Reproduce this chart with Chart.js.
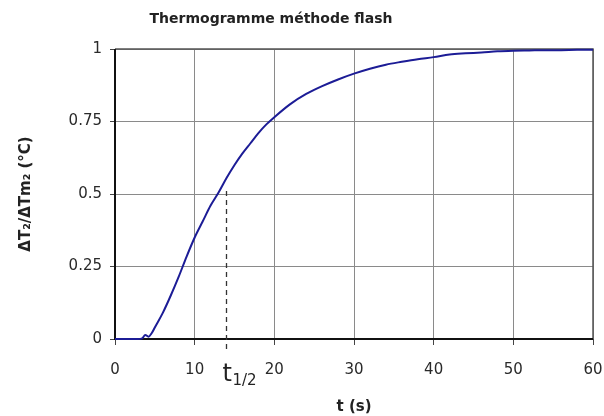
<!DOCTYPE html>
<html><head><meta charset="utf-8">
<script src="https://cdn.jsdelivr.net/npm/chart.js@4.4.0/dist/chart.umd.min.js"></script>
<style>html,body{margin:0;padding:0;background:#fff}#wrap{width:604px;height:416px}</style>
</head><body><div id="wrap"><canvas id="c" width="604" height="416"></canvas></div>
<script>
const chartTitle = "Thermogramme méthode flash";
const xTitle = "t (s)";
const yTitle = "ΔT₂/ΔTm₂ (°C)";
const tHalf = 13.9;
const tHalfY = 0.51;
const timeS = [0,1,2,2.9,3.4,3.8,4.2,4.6,5,6,7,8,9,10,11,12,13,14,15,16,17,18,19,20,22,24,26,28,30,32,34,36,38,40,42,44,46,48,50,52,54,56,58,60];
const ratio = [0,0,0,0,0.002,0.014,0.008,0.02,0.04,0.09,0.15,0.215,0.285,0.35,0.405,0.46,0.505,0.555,0.6,0.64,0.675,0.71,0.74,0.765,0.81,0.845,0.872,0.895,0.915,0.932,0.946,0.956,0.965,0.972,0.981,0.985,0.988,0.992,0.994,0.995,0.996,0.996,0.997,0.997];
const xTicks = [0,10,20,30,40,50,60];
const yTicks = [0,0.25,0.5,0.75,1];

const points = timeS.map((t,i)=>({x:t,y:ratio[i]}));
const FONT = '"DejaVu Sans", Verdana, sans-serif';

const frame = {
  id:'frame',
  beforeDatasetsDraw(chart){
    const {ctx, chartArea:a, scales:{x,y}} = chart;
    ctx.save();
    ctx.strokeStyle='#555'; ctx.lineWidth=1.5;
    ctx.beginPath(); ctx.moveTo(a.left,a.top); ctx.lineTo(a.right,a.top); ctx.lineTo(a.right,a.bottom); ctx.stroke();
    ctx.strokeStyle='#111'; ctx.lineWidth=2;
    ctx.beginPath(); ctx.moveTo(a.left,a.top); ctx.lineTo(a.left,a.bottom); ctx.lineTo(a.right,a.bottom); ctx.stroke();
    const px = Math.round(x.getPixelForValue(tHalf))+0.5;
    ctx.strokeStyle='#333'; ctx.lineWidth=1.3; ctx.setLineDash([5,4]);
    ctx.beginPath(); ctx.moveTo(px, y.getPixelForValue(tHalfY)); ctx.lineTo(px, y.getPixelForValue(0)+14); ctx.stroke();
    ctx.restore();
  },
  afterDraw(chart){
    const {ctx, chartArea:a, scales:{x}} = chart;
    const px = Math.round(x.getPixelForValue(tHalf))+0.5;
    ctx.save();
    ctx.fillStyle='#222'; ctx.textBaseline='alphabetic'; ctx.textAlign='left';
    ctx.font='24px '+FONT;
    ctx.fillText('t', px-4, a.bottom+42);
    ctx.font='15px '+FONT;
    ctx.fillText('1/2', px+6, a.bottom+46);
    ctx.textAlign='center'; ctx.textBaseline='middle';
    ctx.font='bold 14px '+FONT;
    ctx.fillText(chartTitle, 271, 19);
    ctx.font='bold 15px '+FONT;
    ctx.fillText(xTitle, 354, 407);
    ctx.translate(26, (a.top+a.bottom)/2);
    ctx.rotate(-Math.PI/2);
    ctx.fillText(yTitle, 0, 0);
    ctx.restore();
  }
};

new Chart(document.getElementById('c'), {
  type:'line',
  data:{datasets:[{data:points, borderColor:'#1c1c96', borderWidth:2, pointRadius:0, cubicInterpolationMode:'monotone', fill:false, clip:false}]},
  options:{
    responsive:false, animation:false,
    layout:{padding:{left:0,right:11,top:49,bottom:0}},
    plugins:{legend:{display:false}, title:{display:false}, tooltip:{enabled:false}},
    scales:{
      x:{type:'linear', min:0, max:60,
        afterBuildTicks(s){ s.ticks = xTicks.map(v=>({value:v})); },
        afterFit(s){ s.height = 77; s.paddingLeft = 0; s.paddingRight = 0; },
        grid:{color:'#8a8a8a', lineWidth:1, tickLength:6, tickColor:'#444'},
        border:{display:false},
        ticks:{color:'#2a2a2a', font:{family:FONT, size:15}, padding:16, maxRotation:0}
      },
      y:{type:'linear', min:0, max:1,
        afterBuildTicks(s){ s.ticks = yTicks.map(v=>({value:v})); },
        afterFit(s){ s.width = 115; s.paddingTop = 0; s.paddingBottom = 0; },
        grid:{color:'#8a8a8a', lineWidth:1, tickLength:5, tickColor:'#444'},
        border:{display:false},
        ticks:{color:'#2a2a2a', font:{family:FONT, size:15}, padding:8,
          callback:v=>String(v)}
      }
    }
  },
  plugins:[frame]
});
</script></body></html>
